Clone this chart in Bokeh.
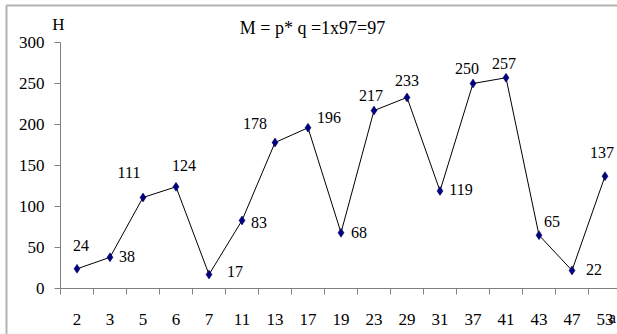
from bokeh.plotting import figure
from bokeh.models import (Range1d, FixedTicker, Label, BoxAnnotation,
                          ColumnDataSource, LinearAxis)
from bokeh.core.properties import value
from bokeh.embed import file_html
from bokeh.resources import INLINE

# values per category
categories = ["2", "3", "5", "6", "7", "11", "13", "17", "19", "23", "29",
              "31", "37", "41", "43", "47", "53"]
counts = [24, 38, 111, 124, 17, 83, 178, 196, 68, 217, 233, 119, 250, 257, 65, 22, 137]
y_ticks = [0, 50, 100, 150, 200, 250, 300]

# pixel offsets of each value label relative to its point
label_dx = [4, 17, -14, 8, 26, 17, -20, 21, 18, -3, 0, 21, -6, -2, 13, 22, -3]
label_dy = [-23, -1, -25, -21, -3, 2, -19, -10, 0, -15, -17, -1, -15, -14, -14, -1, -24]

SERIF = "Liberation Serif"
W, H = 617, 334
ORIGIN_X, ORIGIN_Y = 60, 288   # canvas pixel of the axes' origin
SLOT = 33                      # pixel width of one category
PX_PER_UNIT = 41 / 50          # vertical pixels per count

xs = [i + 0.5 for i in range(len(categories))]
x_end = (W - ORIGIN_X) / SLOT

# the frame spans the whole canvas; axes are pinned at the data origin
p = figure(width=W, height=H, output_backend="svg", toolbar_location=None,
           x_axis_location=None, y_axis_location=None,
           x_range=Range1d(-ORIGIN_X / SLOT, x_end),
           y_range=Range1d(-(H - ORIGIN_Y) / PX_PER_UNIT, ORIGIN_Y / PX_PER_UNIT),
           min_border=0)
p.outline_line_color = None
p.xgrid.visible = False
p.ygrid.visible = False
p.background_fill_color = "white"
p.border_fill_color = "white"

axis_grey = "#808080"

xa = LinearAxis(fixed_location=0, bounds=(0, x_end))
xa.ticker = FixedTicker(ticks=xs, minor_ticks=list(range(len(categories) + 1)))
xa.major_label_overrides = {x: c for x, c in zip(xs, categories)}
xa.major_tick_line_color = None
xa.major_tick_in = 0
xa.major_tick_out = 0
xa.minor_tick_line_color = axis_grey
xa.minor_tick_in = 0
xa.minor_tick_out = 6
xa.axis_line_color = axis_grey
xa.major_label_text_font = SERIF
xa.major_label_text_font_size = "17px"
xa.major_label_text_color = "black"
xa.major_label_standoff = 19
p.add_layout(xa, "below")

ya = LinearAxis(fixed_location=0, bounds=(0, 300))
ya.ticker = FixedTicker(ticks=y_ticks)
ya.minor_tick_line_color = None
ya.major_tick_line_color = axis_grey
ya.major_tick_in = 0
ya.major_tick_out = 6
ya.axis_line_color = axis_grey
ya.major_label_text_font = SERIF
ya.major_label_text_font_size = "17px"
ya.major_label_text_color = "black"
ya.major_label_standoff = 10
p.add_layout(ya, "left")

src = ColumnDataSource(dict(x=xs, y=counts, t=[str(v) for v in counts],
                            dx=label_dx, dy=label_dy))

p.line("x", "y", source=src, line_color="black", line_width=1)
p.scatter("x", "y", source=src, marker="diamond", size=9,
          fill_color="#000080", line_color="#000050", line_width=0.5)
p.text("x", "y", text="t", source=src, x_offset="dx", y_offset="dy",
       text_align="center", text_baseline="middle",
       text_font=value(SERIF), text_font_size="16px", text_color="black")


# screen positions given as canvas pixels from the top-left corner
def sy(cy):
    return H - cy


p.add_layout(Label(x=312, y=sy(27), x_units="screen", y_units="screen",
                   text="M = p* q =1x97=97", text_align="center", text_baseline="middle",
                   text_font=SERIF, text_font_size="18px", text_color="black"))
p.add_layout(Label(x=58, y=sy(24), x_units="screen", y_units="screen",
                   text="H", text_align="center", text_baseline="middle",
                   text_font=SERIF, text_font_size="17px", text_color="black"))
p.add_layout(Label(x=608, y=sy(317), x_units="screen", y_units="screen",
                   text="a", text_align="left", text_baseline="middle",
                   text_font=SERIF, text_font_size="17px", text_color="black"))

# chart border: dark on left and top, light along the bottom
p.add_layout(BoxAnnotation(left=6, right=700, top=sy(5), bottom=sy(420),
                           left_units="screen", right_units="screen",
                           top_units="screen", bottom_units="screen",
                           fill_color=None, line_color="black", line_width=2))
p.add_layout(BoxAnnotation(left=-20, right=700, top=sy(332.5), bottom=sy(420),
                           left_units="screen", right_units="screen",
                           top_units="screen", bottom_units="screen",
                           fill_color=None, line_color="#d4d4d4", line_width=1))

open("out.html", "w").write(file_html(p, INLINE))
